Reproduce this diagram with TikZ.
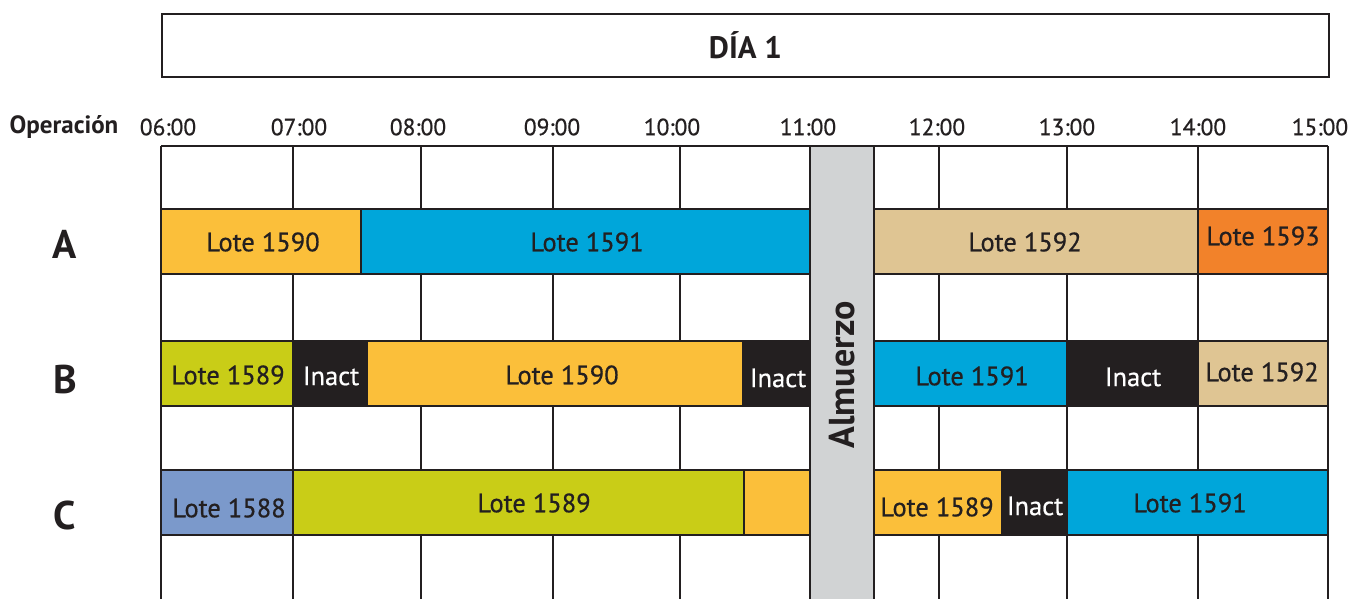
\documentclass[tikz,border=0pt]{standalone}
\usepackage{fontspec}
\setmainfont{PT Sans}
\newfontfamily\medfont[FakeBold=0.6]{PT Sans}
\definecolor{ink}{HTML}{231F20}
\definecolor{amar}{HTML}{FBBF3A}
\definecolor{azul}{HTML}{00A6DA}
\definecolor{arena}{HTML}{DFC593}
\definecolor{nara}{HTML}{F2822A}
\definecolor{oliva}{HTML}{C9CD17}
\definecolor{grisazul}{HTML}{7B99CB}
\definecolor{gris}{HTML}{D1D3D4}
\tikzset{
  grid line/.style={draw=ink, line width=2pt},
  barbox/.style={draw=ink, line width=2pt},
  bartext/.style={text=ink, font=\medfont\fontsize{26.5}{26.5}\selectfont, inner sep=0pt},
  inacttext/.style={text=white, font=\medfont\fontsize{26.5}{26.5}\selectfont, inner sep=0pt},
  hour/.style={text=ink, font=\medfont\fontsize{23.5}{23.5}\selectfont, inner sep=0pt},
  rowlab/.style={text=ink, font=\fontsize{40}{40}\selectfont\bfseries, inner sep=0pt},
}
\begin{document}
\begin{tikzpicture}[x=1pt,y=-1pt]
\useasboundingbox (0,0) rectangle (1352,599);
\fill[white] (0,0) rectangle (1352,599);

% title
\node[draw=ink, line width=2pt, minimum width=1167pt, minimum height=63pt, anchor=north west, inner sep=0pt,
  font=\fontsize{31}{31}\selectfont\bfseries, text=ink] (titulo) at (161,13) {DÍA 1};

% header
\node[hour, font=\fontsize{25}{25}\selectfont\bfseries] (op) at (64,127) {Operación};
\node[hour] (h06) at (168,127) {06:00};
\node[hour] (h07) at (299,127) {07:00};
\node[hour] (h08) at (418,127) {08:00};
\node[hour] (h09) at (552,127) {09:00};
\node[hour] (h10) at (672,127) {10:00};
\node[hour] (h11) at (808,127) {11:00};
\node[hour] (h12) at (937,127) {12:00};
\node[hour] (h13) at (1067,127) {13:00};
\node[hour] (h14) at (1198,127) {14:00};
\node[hour] (h15) at (1320,127) {15:00};

% grid
\draw[grid line] (161,146) -- (1328,146);
\foreach \x in {161,293,421,553,680,810,874,939,1067,1198,1328}
  \draw[grid line] (\x,146) -- (\x,600);

% row labels
\node[rowlab] (rA) at (65,244) {A};
\node[rowlab] (rB) at (65,379) {B};
\node[rowlab] (rC) at (65,515) {C};

% Row A
\draw[barbox, fill=amar] (161,209) rectangle (361,274);
\node[bartext] (a1) at (263,242) {Lote 1590};
\draw[barbox, fill=azul] (361,209) rectangle (810,274);
\node[bartext] (a2) at (587,242) {Lote 1591};
\draw[barbox, fill=arena] (874,209) rectangle (1198,274);
\node[bartext] (a3) at (1025,242) {Lote 1592};
\draw[barbox, fill=nara] (1198,209) rectangle (1328,274);
\node[bartext] (a4) at (1263,236) {Lote 1593};

% Row B
\draw[barbox, fill=oliva] (161,341) rectangle (293,406);
\node[bartext] (b1) at (228,375) {Lote 1589};
\draw[barbox, fill=ink] (293,341) rectangle (367,406);
\node[inacttext] (b2) at (331,376) {Inact};
\draw[barbox, fill=amar] (367,341) rectangle (743,406);
\node[bartext] (b3) at (562,375) {Lote 1590};
\draw[barbox, fill=ink] (743,341) rectangle (810,406);
\node[inacttext] (b4) at (778,378) {Inact};
\draw[barbox, fill=azul] (874,341) rectangle (1067,406);
\node[bartext] (b5) at (972,376) {Lote 1591};
\draw[barbox, fill=ink] (1067,341) rectangle (1198,406);
\node[inacttext] (b6) at (1133,377) {Inact};
\draw[barbox, fill=arena] (1198,341) rectangle (1328,406);
\node[bartext] (b7) at (1262,372) {Lote 1592};

% Row C
\draw[barbox, fill=grisazul] (161,470) rectangle (293,535);
\node[bartext] (c1) at (229,508) {Lote 1588};
\draw[barbox, fill=oliva] (293,470) rectangle (744,535);
\node[bartext] (c2) at (534,503) {Lote 1589};
\draw[barbox, fill=amar] (744,470) rectangle (810,535);
\draw[barbox, fill=amar] (874,470) rectangle (1002,535);
\node[bartext] (c3) at (937,507) {Lote 1589};
\draw[barbox, fill=ink] (1002,470) rectangle (1067,535);
\node[inacttext] (c4) at (1035,506) {Inact};
\draw[barbox, fill=azul] (1067,470) rectangle (1328,535);
\node[bartext] (c5) at (1190,503) {Lote 1591};

% lunch
\draw[barbox, fill=gris] (810,146) rectangle (874,602);
\node[rotate=90, text=ink, font=\fontsize{36}{36}\selectfont\bfseries, inner sep=0pt] (alm) at (842,375) {Almuerzo};
\end{tikzpicture}
\end{document}
